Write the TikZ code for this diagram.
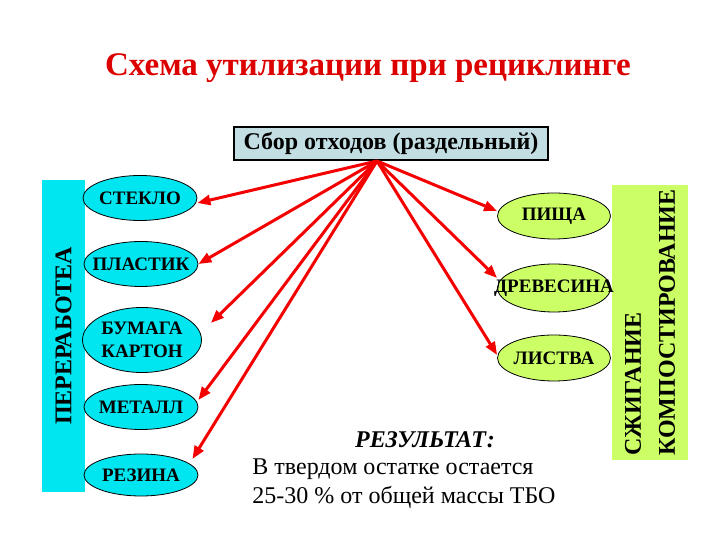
\documentclass[tikz,border=0pt]{standalone}
\usepackage{fontspec}
\setmainfont{LiberationSerif}[Extension=.ttf, UprightFont=*-Regular, BoldFont=*-Bold, ItalicFont=*-Italic, BoldItalicFont=*-BoldItalic]
\usetikzlibrary{shapes,arrows.meta,positioning}

\definecolor{titlered}{RGB}{220,0,0}
\definecolor{arrowred}{RGB}{245,0,0}
\definecolor{aqua}{RGB}{0,230,240}
\definecolor{leafgreen}{RGB}{204,255,102}
\definecolor{boxgray}{RGB}{195,222,226}

\begin{document}
\begin{tikzpicture}[
    x=1pt, y=1pt,
    waste/.style={ellipse, draw, line width=0.8pt, fill=aqua, minimum width=114pt, minimum height=45pt,
        inner xsep=-30pt, inner ysep=0pt, align=center, font=\fontsize{19}{23}\selectfont\bfseries},
    organic/.style={waste, fill=leafgreen},
    band/.style={rotate=90, inner sep=0pt, font=\fontsize{24}{34}\selectfont\bfseries},
    link/.style={-{Triangle[length=13pt,width=10pt]}, line width=3pt, draw=arrowred}
]
    \useasboundingbox (0,0) rectangle (720,540);

    % --- Title ---
    \node[font=\fontsize{33}{38}\selectfont\bfseries, text=titlered] (title) at (368,472) {Схема утилизации при рециклинге};

    % Collection box
    \node[draw, line width=1.2pt, fill=boxgray, minimum width=314pt, minimum height=33pt, inner sep=0pt,
        font=\fontsize{24}{28}\selectfont\bfseries] (sbor) at (391,396.5) {Сбор отходов (раздельный)};
    \coordinate (hub) at (377,379);

    % --- Recycling side ---
    \node[band, fill=aqua, minimum width=312pt, minimum height=43pt] (recycle) at (63.5,204) {ПЕРЕРАБОТЕА};

    \node[waste] (steklo) at (140,342) {СТЕКЛО};
    \node[waste] (plastik) at (141,276) {ПЛАСТИК};
    \node[waste, minimum width=119pt, minimum height=65pt] (bumaga) at (142,200) {БУМАГА\\КАРТОН};
    \node[waste] (metall) at (141,133) {МЕТАЛЛ};
    \node[waste, minimum height=42pt] (rezina) at (141,65) {РЕЗИНА};

    % --- Burning / composting side ---
    \node[band, fill=leafgreen, minimum width=275pt, minimum height=76pt, align=left] (burn) at (650,217.5) {СЖИГАНИЕ\\КОМПОСТИРОВАНИЕ};

    \node[organic, minimum width=113pt, minimum height=46pt] (pischa) at (554,324) {ПИЩА};
    \node[organic, minimum width=113pt, minimum height=48pt] (drevesina) at (554,252) {ДРЕВЕСИНА};
    \node[organic, minimum width=113pt, minimum height=46pt] (listva) at (554,182) {ЛИСТВА};

    % Arrows from the collection box
    \draw[link] (hub) -- ([yshift=-5pt]steklo.east);
    \draw[link] (hub) -- (plastik.east);
    \draw[link] (hub) -- ([xshift=9pt,yshift=17pt]bumaga.east);
    \draw[link] (hub) -- ([yshift=7pt]metall.east);
    \draw[link] (hub) -- ([xshift=-6pt,yshift=16pt]rezina.east);
    \draw[link] (hub) -- ([yshift=5pt]pischa.west);
    \draw[link] (hub) -- ([yshift=10pt]drevesina.west);
    \draw[link] (hub) -- ([yshift=3pt]listva.west);

    % --- Result ---
    \node[font=\fontsize{24}{29}\selectfont\bfseries\itshape] (result) at (425,100) {РЕЗУЛЬТАТ:};
    \node[below=7pt of result, xshift=-21pt, align=left, inner sep=0pt, font=\fontsize{24}{29}\selectfont] (resulttext)
        {В твердом остатке остается\\25-30 \% от общей массы ТБО};

\end{tikzpicture}
\end{document}
